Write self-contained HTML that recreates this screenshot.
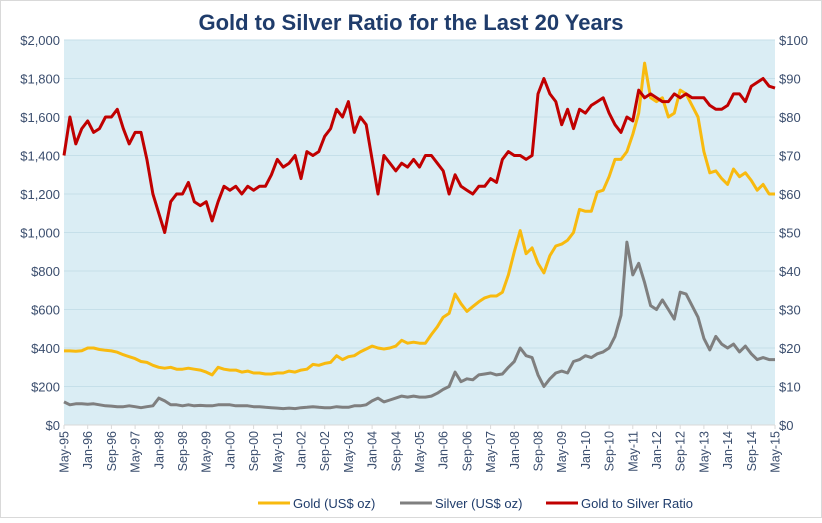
<!DOCTYPE html>
<html><head><meta charset="utf-8"><style>
html,body{margin:0;padding:0;background:#fff;}
body{width:822px;height:518px;overflow:hidden;font-family:"Liberation Sans",sans-serif;}
svg text{font-family:"Liberation Sans",sans-serif;}
</style></head><body>
<svg id="chart" width="822" height="518" viewBox="0 0 822 518" xmlns="http://www.w3.org/2000/svg">
<rect x="0.5" y="0.5" width="821" height="517" fill="#fff" stroke="#d9d9d9"/>
<text x="411" y="30" text-anchor="middle" font-size="22" font-weight="bold" fill="#1F3C6B">Gold to Silver Ratio for the Last 20 Years</text>
<rect x="64" y="40" width="711" height="385" fill="#DAEDF4"/>
<g id="grid"></g><g id="axes"></g><g id="series"></g>
<g>
<line x1="258" y1="503" x2="290" y2="503" stroke="#F8BA0F" stroke-width="3"/>
<text x="293" y="508" font-size="13" fill="#1F3C6B">Gold (US$ oz)</text>
<line x1="400" y1="503" x2="432" y2="503" stroke="#7F7F7F" stroke-width="3"/>
<text x="435" y="508" font-size="13" fill="#1F3C6B">Silver (US$ oz)</text>
<line x1="546" y1="503" x2="578" y2="503" stroke="#C00000" stroke-width="3"/>
<text x="581" y="508" font-size="13" fill="#1F3C6B">Gold to Silver Ratio</text>
</g>
</svg>
<script>
const xLabels=["May-95","Jan-96","Sep-96","May-97","Jan-98","Sep-98","May-99","Jan-00","Sep-00","May-01","Jan-02","Sep-02","May-03","Jan-04","Sep-04","May-05","Jan-06","Sep-06","May-07","Jan-08","Sep-08","May-09","Jan-10","Sep-10","May-11","Jan-12","Sep-12","May-13","Jan-14","Sep-14","May-15"];
const leftTicks=[0,200,400,600,800,1000,1200,1400,1600,1800,2000];
const rightTicks=[0,10,20,30,40,50,60,70,80,90,100];
const gold=[385,385,383,386,400,400,392,388,385,378,365,355,345,330,325,310,300,295,300,290,290,295,290,285,275,260,300,290,285,285,275,280,270,270,265,265,270,270,280,275,285,290,315,310,320,325,360,340,355,360,380,395,410,400,395,400,410,440,425,430,425,425,470,510,560,580,680,630,590,615,640,660,670,670,690,780,900,1010,890,920,840,790,880,930,940,960,1000,1120,1110,1110,1210,1220,1290,1380,1380,1420,1510,1620,1880,1700,1680,1700,1600,1620,1740,1720,1660,1600,1420,1310,1320,1280,1250,1330,1290,1310,1270,1220,1250,1200,1200];
const silver=[120,105,110,110,108,110,105,100,98,95,95,100,95,90,95,100,140,125,105,105,100,105,100,102,100,100,105,105,105,100,100,100,95,95,92,90,88,85,88,85,90,92,95,92,90,90,95,92,92,100,100,105,125,140,120,130,140,150,145,150,145,145,150,165,185,200,275,225,240,235,260,265,270,260,265,300,330,400,360,350,260,200,240,270,280,270,330,340,360,350,370,380,400,460,570,950,780,840,740,620,600,650,600,550,690,680,620,560,450,390,460,420,400,420,380,410,370,340,350,340,340];
const ratio=[70,80,73,77,79,76,77,80,80,82,77,73,76,76,69,60,55,50,58,60,60,63,58,57,58,53,58,62,61,62,60,62,61,62,62,65,69,67,68,70,64,71,70,71,75,77,82,80,84,76,80,78,69,60,70,68,66,68,67,69,67,70,70,68,66,60,65,62,61,60,62,62,64,63,69,71,70,70,69,70,86,90,86,84,78,82,77,82,81,83,84,85,81,78,76,80,79,87,85,86,85,84,84,86,85,86,85,85,85,83,82,82,83,86,86,84,88,89,90,88,87.5];
const NS='http://www.w3.org/2000/svg';
const X0=64,X1=775,Y0=425,Y1=40,MONTHS=240;
function xs(m){return X0+(X1-X0)*m/MONTHS;}
function yl(v){return Y0-(Y0-Y1)*v/2000;}
function yr(v){return Y0-(Y0-Y1)*v/100;}
function mk(tag,attrs,parent){const e=document.createElementNS(NS,tag);for(const k in attrs)e.setAttribute(k,attrs[k]);parent.appendChild(e);return e;}
const grid=document.getElementById('grid'),axes=document.getElementById('axes'),series=document.getElementById('series');
leftTicks.forEach((v,i)=>{
  if(v>0){const g=mk('line',{x1:X0,x2:X1,y1:yl(v),y2:yl(v),stroke:'#C5DFE9','stroke-width':1},grid);
  
  }
  const t=mk('text',{x:X0-4,y:yl(v)+5,'text-anchor':'end','font-size':13,fill:'#3B4E6E'},axes);
  t.textContent='$'+v.toLocaleString('en-US');
  
  
});
rightTicks.forEach(v=>{
  const t=mk('text',{x:X1+4,y:yr(v)+5,'text-anchor':'start','font-size':13,fill:'#3B4E6E'},axes);
  t.textContent='$'+v;
  
  
});
const ax=mk('line',{x1:X0,x2:X1,y1:Y0,y2:Y0,stroke:'#d9d9d9'},axes);


xLabels.forEach((l,i)=>{
  const x=xs(i*8);
  mk('line',{x1:x,x2:x,y1:Y0,y2:Y0+4,stroke:'#d9d9d9'},axes);
  const t=mk('text',{x:0,y:0,'text-anchor':'end','font-size':12.5,fill:'#3B4E6E',transform:`translate(${x+4.5},${Y0+6}) rotate(-90)`},axes);
  t.textContent=l;
  
  
});
function line(arr,yf,color,name){
  const step=MONTHS/(arr.length-1);
  const d=arr.map((v,i)=>(i?'L':'M')+xs(i*step).toFixed(1)+','+yf(v).toFixed(1)).join(' ');
  const p=mk('path',{d:d,fill:'none',stroke:color,'stroke-width':3,'stroke-linejoin':'round'},series);
  
  
}
line(silver,yl,'#7F7F7F','silver-line');
line(gold,yl,'#F8BA0F','gold-line');
line(ratio,yr,'#C00000','ratio-line');
</script>
</body></html>
